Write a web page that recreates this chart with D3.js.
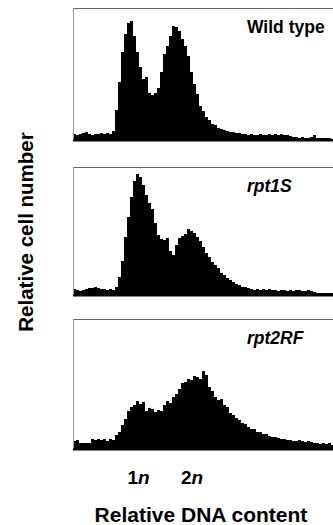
<!DOCTYPE html>
<html>
<head>
<meta charset="utf-8">
<script src="https://cdn.jsdelivr.net/npm/d3@7"></script>
<style>
  body { margin: 0; background: #fff; }
  svg { display: block; font-family: "Liberation Sans", Arial, sans-serif; }
</style>
</head>
<body>
<div id="chart"></div>
<script>
// cell counts per DNA-content channel (87 channels)
const wildType = [6,5,6,7,8,6,5,6,6,7,6,7,6,9,30,58,88,106,117,119,104,88,73,61,63,47,45,47,52,68,
  86,94,104,114,113,109,101,94,84,68,56,46,34,29,23,20,16,15,12,11,10,9,8,8,7,7,6,6,5,6,
  5,5,6,5,5,6,5,6,5,6,5,5,4,3,3,2,3,2,2,3,5,2,2,2,2,2,1];
const rpt1S = [6,5,4,5,6,7,7,8,7,6,6,5,6,5,8,18,34,58,78,98,114,121,118,110,100,92,86,72,60,56,
  55,57,44,40,50,57,59,61,66,64,62,58,54,48,42,38,33,30,27,22,20,17,15,13,11,10,8,8,7,6,
  5,6,5,6,5,6,5,5,4,5,5,4,5,4,5,5,4,4,5,4,3,2,2,2,2,2,2];
const rpt2RF = [8,9,6,6,6,6,10,9,10,9,10,8,10,9,14,17,24,30,38,42,44,48,45,47,38,41,40,37,39,38,
  44,48,46,52,55,60,66,67,70,69,73,72,70,78,74,62,58,52,49,50,44,42,36,34,31,29,26,25,22,20,
  20,17,17,15,15,13,12,12,11,10,10,9,9,8,8,9,8,7,8,7,6,6,5,6,5,6,4];

const strains = ['Wild type', 'rpt1S', 'rpt2RF'];
const series = [wildType, rpt1S, rpt2RF];
const maxCount = [132, 128, 130];

const tickValues = [21.7, 39.5];
const tickLabels = ['1', '2'];

const W = 333, H = 525;
const svg = d3.select('#chart').append('svg').attr('width', W).attr('height', H);

const left = 73, right = 334;
const panels = [{ top: 8, bottom: 140 }, { top: 167, bottom: 295 }, { top: 319, bottom: 449 }];

const x = d3.scaleLinear().domain([0, wildType.length]).range([left, right]);

panels.forEach((p, k) => {
  const y = d3.scaleLinear().domain([0, maxCount[k]]).range([p.bottom, p.top]);
  const g = svg.append('g').attr('class', 'panel');

  const vals = series[k].concat([series[k][series[k].length - 1]]);
  const area = d3.area()
    .x((d, i) => x(i))
    .y0(y(0))
    .y1(d => y(d))
    .curve(d3.curveStepAfter);

  g.append('path').datum(vals).attr('d', area).attr('fill', '#000');

  // frame: faint top and left, heavy baseline
  g.append('line').attr('x1', left).attr('x2', W).attr('y1', p.top + 0.5).attr('y2', p.top + 0.5)
    .attr('stroke', '#666').attr('stroke-width', 1);
  g.append('line').attr('x1', left + 0.5).attr('x2', left + 0.5).attr('y1', p.top).attr('y2', p.bottom)
    .attr('stroke', '#999').attr('stroke-width', 1);
  g.append('line').attr('x1', left).attr('x2', W).attr('y1', p.bottom + 0.5).attr('y2', p.bottom + 0.5)
    .attr('stroke', '#000').attr('stroke-width', 2);

  g.append('text')
    .attr('x', 247).attr('y', p.top + 25)
    .attr('font-size', 17.5).attr('font-weight', 'bold')
    .attr('font-style', k === 0 ? 'normal' : 'italic')
    .text(strains[k]);
});

// 1n / 2n axis labels
const axis = svg.append('g')
  .attr('transform', `translate(0, ${panels[2].bottom + 18})`)
  .call(d3.axisBottom(x).tickValues(tickValues).tickSize(0).tickFormat((d, i) => tickLabels[i]));
axis.select('.domain').remove();
axis.selectAll('text')
  .attr('font-size', 19).attr('font-weight', 'bold').attr('fill', '#000')
  .attr('font-family', '"Liberation Sans", Arial, sans-serif')
  .each(function (d, i) {
    const t = d3.select(this);
    t.text(tickLabels[i]);
    t.append('tspan').attr('font-style', 'italic').text('n');
  });

svg.append('text')
  .attr('x', 201).attr('y', 522)
  .attr('text-anchor', 'middle')
  .attr('font-size', 21).attr('font-weight', 'bold')
  .text('Relative DNA content');

svg.append('text')
  .attr('transform', 'translate(33, 232) rotate(-90)')
  .attr('text-anchor', 'middle')
  .attr('font-size', 20.5).attr('font-weight', 'bold')
  .text('Relative cell number');
</script>
</body>
</html>
